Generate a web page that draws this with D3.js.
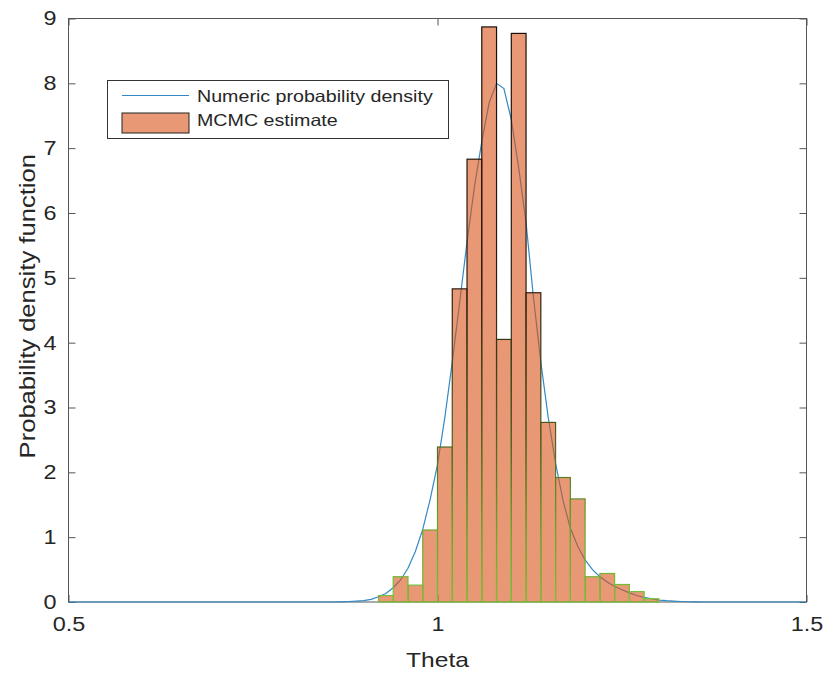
<!DOCTYPE html>
<html>
<head>
<meta charset="utf-8">
<script src="https://cdn.jsdelivr.net/npm/d3@7"></script>
<style>
  body { margin: 0; background: #fff; }
  svg text { font-family: "Liberation Sans", Arial, sans-serif; fill: #262626; }
</style>
</head>
<body>
<div id="chart"></div>
<script>
// histogram bins (left edges) and their densities
const binEdges = [0.92, 0.94, 0.96, 0.98, 1.00, 1.02, 1.04, 1.06, 1.08, 1.10,
                  1.12, 1.14, 1.16, 1.18, 1.20, 1.22, 1.24, 1.26, 1.28];
const binWidth = 0.02;
const binDensity = [0.10, 0.39, 0.26, 1.11, 2.39, 4.83, 6.83, 8.87, 4.05, 8.77,
                    4.77, 2.77, 1.92, 1.59, 0.39, 0.44, 0.27, 0.16, 0.05];

// numeric density curve, sampled every 0.01 from 0.86 to 1.36 (zero elsewhere)
const curveX = [0.50, 0.86, 0.87, 0.88, 0.89, 0.90, 0.91, 0.92, 0.93, 0.94, 0.95,
                0.96, 0.97, 0.98, 0.99, 1.00, 1.01, 1.02, 1.03, 1.04, 1.05,
                1.06, 1.07, 1.08, 1.09, 1.10, 1.11, 1.12, 1.13, 1.14, 1.15,
                1.16, 1.17, 1.18, 1.19, 1.20, 1.21, 1.22, 1.23, 1.24, 1.25,
                1.26, 1.27, 1.28, 1.29, 1.30, 1.31, 1.32, 1.33, 1.34, 1.35, 1.36, 1.50];
const curveY = [0, 0, 0.003, 0.008, 0.015, 0.02, 0.04, 0.08, 0.13, 0.22, 0.34,
                0.52, 0.78, 1.12, 1.58, 2.12, 2.85, 3.70, 4.62, 5.55, 6.40,
                7.10, 7.70, 8.00, 7.92, 7.44, 6.70, 5.85, 4.70, 3.70, 2.85,
                2.14, 1.57, 1.14, 0.86, 0.65, 0.50, 0.39, 0.31, 0.24, 0.19,
                0.14, 0.10, 0.07, 0.05, 0.03, 0.02, 0.013, 0.008, 0.004, 0.002, 0, 0];

const xTicks = [0.5, 1, 1.5];
const yTicks = [0, 1, 2, 3, 4, 5, 6, 7, 8, 9];
const legendLabels = ['Numeric probability density', 'MCMC estimate'];

const W = 827, H = 674;
const plotL = 68.5, plotR = 806.5, plotT = 18.5, plotB = 602;

const x = d3.scaleLinear().domain([0.5, 1.5]).range([plotL, plotR]);
const y = d3.scaleLinear().domain([0, 9]).range([plotB, plotT]);

const svg = d3.select('#chart').append('svg')
    .attr('width', W)
    .attr('height', H);

// the original font runs wider than Arial, so stretch text a little
const widen = (sel, k) => sel.each(function () {
    const len = this.getComputedTextLength();
    d3.select(this)
        .attr('textLength', len * k)
        .attr('lengthAdjust', 'spacingAndGlyphs');
});

// edge colour runs from green near the base to dark near the top
const defs = svg.append('defs');
const grad = defs.append('linearGradient')
    .attr('id', 'edgeGrad')
    .attr('gradientUnits', 'userSpaceOnUse')
    .attr('x1', 0).attr('x2', 0)
    .attr('y1', y(0)).attr('y2', y(9));
grad.append('stop').attr('offset', '0%').attr('stop-color', '#72c43a');
grad.append('stop').attr('offset', '12%').attr('stop-color', '#6aa82e');
grad.append('stop').attr('offset', '30%').attr('stop-color', '#4a5a1c');
grad.append('stop').attr('offset', '55%').attr('stop-color', '#2a1a10');
grad.append('stop').attr('offset', '100%').attr('stop-color', '#1a0c08');

// axes box with inward ticks (MATLAB style)
const axisColor = '#555';
const tickLen = 7;
const axG = svg.append('g');

axG.append('rect')
    .attr('x', plotL).attr('y', plotT)
    .attr('width', plotR - plotL).attr('height', plotB - plotT)
    .attr('fill', 'none')
    .attr('stroke', axisColor)
    .attr('stroke-width', 1);

const bottomAxis = d3.axisBottom(x).tickValues(xTicks).tickSize(-tickLen).tickPadding(tickLen + 8)
    .tickFormat(d3.format('~g'));
const gx = axG.append('g').attr('transform', `translate(0,${plotB})`).call(bottomAxis);
const topAxis = d3.axisTop(x).tickValues(xTicks).tickSize(-tickLen).tickFormat('');
const gxt = axG.append('g').attr('transform', `translate(0,${plotT})`).call(topAxis);
const leftAxis = d3.axisLeft(y).tickValues(yTicks).tickSize(-tickLen).tickPadding(tickLen + 5);
const gy = axG.append('g').attr('transform', `translate(${plotL},0)`).call(leftAxis);
const rightAxis = d3.axisRight(y).tickValues(yTicks).tickSize(-tickLen).tickFormat('');
const gyr = axG.append('g').attr('transform', `translate(${plotR},0)`).call(rightAxis);

[gx, gxt, gy, gyr].forEach(g => {
    g.select('.domain').remove();
    g.selectAll('.tick line').attr('stroke', axisColor);
    g.selectAll('.tick text')
        .attr('font-size', 20)
        .attr('font-family', '"Liberation Sans", Arial, sans-serif')
        .attr('fill', '#262626');
});
widen(gx.selectAll('.tick text'), 1.17);
widen(gy.selectAll('.tick text'), 1.17);

// density curve (drawn first, bars are semi-transparent over it)
const line = d3.line()
    .x((d, i) => x(curveX[i]))
    .y(d => y(d));

svg.append('path')
    .datum(curveY)
    .attr('d', line)
    .attr('fill', 'none')
    .attr('stroke', '#3189c4')
    .attr('stroke-width', 1.2);

// histogram bars
svg.append('g').selectAll('rect')
    .data(binDensity)
    .enter()
    .append('rect')
    .attr('x', (d, i) => x(binEdges[i]))
    .attr('width', (d, i) => x(binEdges[i] + binWidth) - x(binEdges[i]))
    .attr('y', d => y(d))
    .attr('height', d => y(0) - y(d))
    .attr('fill', 'rgba(217,83,25,0.6)')
    .attr('stroke', 'url(#edgeGrad)')
    .attr('stroke-width', 1.2);

// axis labels
svg.append('text')
    .attr('x', (plotL + plotR) / 2)
    .attr('y', 667)
    .attr('text-anchor', 'middle')
    .attr('font-size', 21)
    .text('Theta')
    .call(widen, 1.17);

svg.append('text')
    .attr('transform', `translate(35,${(plotT + plotB) / 2 - 4}) rotate(-90)`)
    .attr('text-anchor', 'middle')
    .attr('font-size', 21.5)
    .text('Probability density function')
    .call(widen, 1.19);

// legend
const lg = svg.append('g');
lg.append('rect')
    .attr('x', 107.5).attr('y', 80.5)
    .attr('width', 341).attr('height', 58)
    .attr('fill', '#fff')
    .attr('stroke', '#333')
    .attr('stroke-width', 1);

lg.append('line')
    .attr('x1', 122).attr('x2', 189)
    .attr('y1', 95.5).attr('y2', 95.5)
    .attr('stroke', '#3189c4')
    .attr('stroke-width', 1.2);

lg.append('rect')
    .attr('x', 122).attr('y', 113)
    .attr('width', 67).attr('height', 20)
    .attr('fill', 'rgba(217,83,25,0.6)')
    .attr('stroke', '#222')
    .attr('stroke-width', 1);

lg.selectAll('text.leg')
    .data(legendLabels)
    .enter()
    .append('text')
    .attr('class', 'leg')
    .attr('x', 197)
    .attr('y', (d, i) => 102 + i * 24)
    .attr('font-size', 16.5)
    .text(d => d)
    .call(widen, 1.19);
</script>
</body>
</html>
